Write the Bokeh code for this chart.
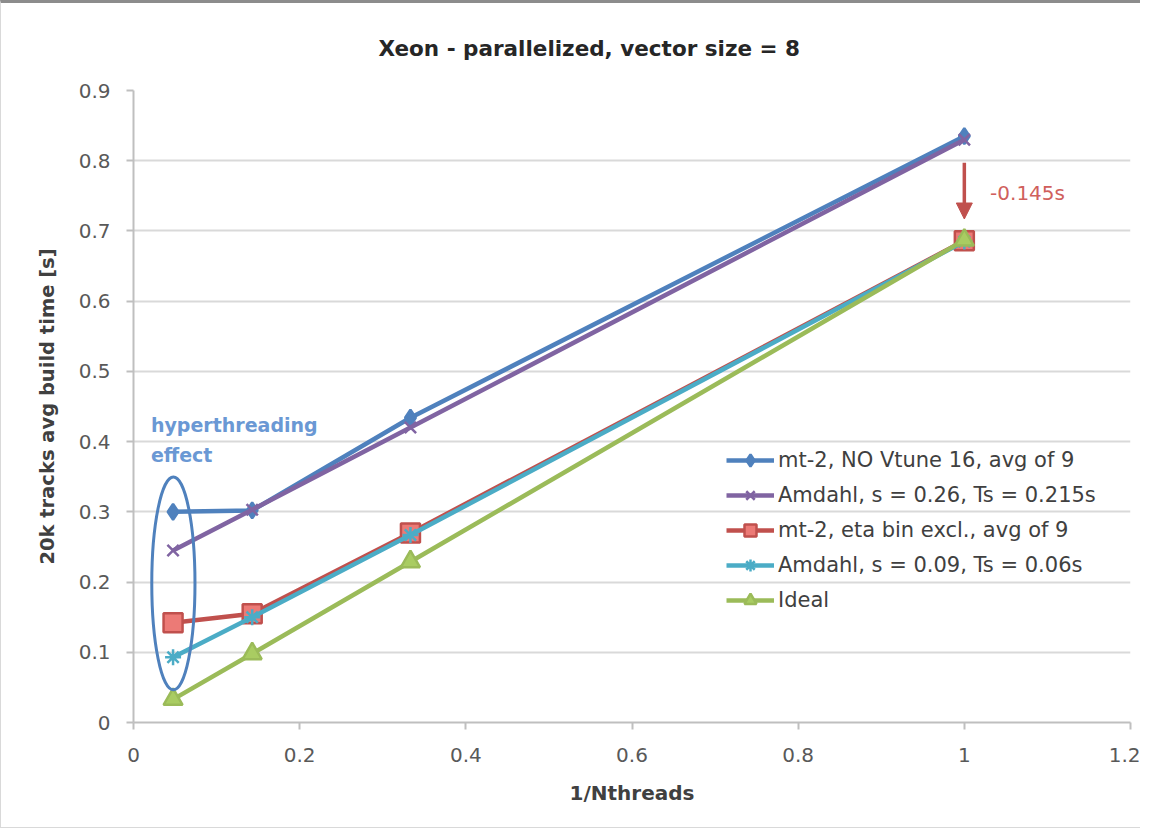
from bokeh.plotting import figure
from bokeh.embed import file_html
from bokeh.resources import INLINE
from bokeh.models import Label, Legend, LegendItem, Arrow, NormalHead, FixedTicker, Range1d

# ---- data ----
inv_threads = [1/21, 1/7, 1/3, 1.0]
mt2_novtune = [0.300, 0.302, 0.434, 0.835]
amdahl_026 = [0.245, 0.303, 0.420, 0.830]
mt2_etabin = [0.142, 0.155, 0.270, 0.686]
amdahl_009 = [0.093, 0.150, 0.267, 0.685]
ideal = [0.033, 0.098, 0.229, 0.687]

series_labels = [
    "mt-2, NO Vtune 16, avg of 9",
    "Amdahl, s = 0.26, Ts = 0.215s",
    "mt-2, eta bin excl., avg of 9",
    "Amdahl, s = 0.09, Ts = 0.06s",
    "Ideal",
]
x_ticks = [0, 0.2, 0.4, 0.6, 0.8, 1.0, 1.2]
y_ticks = [0, 0.1, 0.2, 0.3, 0.4, 0.5, 0.6, 0.7, 0.8, 0.9]

FONT = "DejaVu Sans"

p = figure(width=1140, height=828, output_backend="svg", toolbar_location=None,
           x_range=Range1d(0, 1.2), y_range=Range1d(0, 0.9),
           min_border_left=132, min_border_right=11, min_border_top=87, min_border_bottom=109)
p.outline_line_color = None
p.background_fill_color = "white"
p.border_fill_color = "white"

p.title.text = "Xeon - parallelized, vector size = 8"
p.title.align = "left"
p.title.offset = 245
p.title.standoff = 59
p.title.text_font = FONT
p.title.text_font_size = "21.5px"
p.title.text_font_style = "bold"
p.title.text_color = "#262626"

# grid
p.xgrid.grid_line_color = None
p.ygrid.grid_line_color = "#d9d9d9"
p.ygrid.grid_line_width = 2
p.ygrid.ticker = FixedTicker(ticks=y_ticks)

# axes
p.xaxis.ticker = FixedTicker(ticks=x_ticks)
p.yaxis.ticker = FixedTicker(ticks=y_ticks)
p.xaxis.major_label_overrides = {0: "0", 1.0: "1", 0.2: "0.2", 0.4: "0.4", 0.6: "0.6", 0.8: "0.8", 1.2: "1.2"}
p.yaxis.major_label_overrides = {0: "0"}
for ax in (p.xaxis, p.yaxis):
    ax.axis_line_color = "#bfbfbf"
    ax.axis_line_width = 2
    ax.major_tick_line_color = "#bfbfbf"
    ax.major_tick_line_width = 2
    ax.major_tick_out = 7
    ax.major_tick_in = 0
    ax.minor_tick_line_color = None
    ax.major_label_text_font = FONT
    ax.major_label_text_font_size = "20px"
    ax.major_label_text_color = "#595959"
    ax.axis_label_text_font = FONT
    ax.axis_label_text_font_style = "bold"
    ax.axis_label_text_color = "#404040"
p.xaxis.axis_label_text_font_size = "20px"
p.yaxis.axis_label_text_font_size = "19.5px"
p.xaxis.axis_label = "1/Nthreads"
p.yaxis.axis_label = "20k tracks avg build time [s]"
p.xaxis.major_label_standoff = 18
p.xaxis.axis_label_standoff = 16
p.yaxis.major_label_standoff = 16
p.yaxis.axis_label_standoff = 17

colors = ["#4f81bd", "#8064a2", "#c0504d", "#4bacc6", "#9bbb59"]
ys = [mt2_novtune, amdahl_026, mt2_etabin, amdahl_009, ideal]
markers = ["diamond", "x", "square", "asterisk", "triangle"]
fills = ["#4f81bd", None, "#ec7a76", None, "#a9cc62"]
sizes = [16, 16, 19, 16, 19]

items = []
for lab, y, c, m, f, s in zip(series_labels, ys, colors, markers, fills, sizes):
    r1 = p.line(inv_threads, y, line_color=c, line_width=4.5)
    r2 = p.scatter(inv_threads, y, marker=m, size=s, line_color=c, line_width=2.5,
                   fill_color=f if f else None)
    items.append(LegendItem(label=lab, renderers=[r1, r2]))

legend = Legend(items=items, location=(593, 107))
legend.background_fill_alpha = 0
legend.border_line_color = None
legend.padding = 0
legend.margin = 0
legend.spacing = 5
legend.glyph_height = 30
legend.label_height = 30
legend.glyph_width = 48
legend.label_standoff = 4
legend.label_text_font = FONT
legend.label_text_font_size = "21px"
legend.label_text_color = "#404040"
p.add_layout(legend)

# hyperthreading ellipse
p.ellipse(x=[0.048], y=[0.198], width=0.052, height=0.303, fill_color=None,
          line_color="#4f81bd", line_width=3)
p.add_layout(Label(x=0.021, y=0.424, text="hyperthreading", text_font=FONT,
                   text_font_size="19px", text_font_style="bold", text_color="#6a98d4",
                   text_baseline="middle"))
p.add_layout(Label(x=0.021, y=0.381, text="effect", text_font=FONT,
                   text_font_size="19px", text_font_style="bold", text_color="#6a98d4",
                   text_baseline="middle"))

# arrow and difference label
p.add_layout(Arrow(x_start=1.0, y_start=0.797, x_end=1.0, y_end=0.717,
                   line_color="#c0504d", line_width=3.5,
                   end=NormalHead(size=16, fill_color="#c0504d", line_color="#c0504d")))
p.add_layout(Label(x=1.031, y=0.754, text="-0.145s", text_font=FONT,
                   text_font_size="20px", text_color="#d0605c", text_baseline="middle"))

p.styles = {"border-left": "1px solid #d9d9d9", "border-bottom": "1px solid #d9d9d9",
            "border-top": "3px solid #8c8c8c"}

open("out.html", "w").write(file_html(p, INLINE))
